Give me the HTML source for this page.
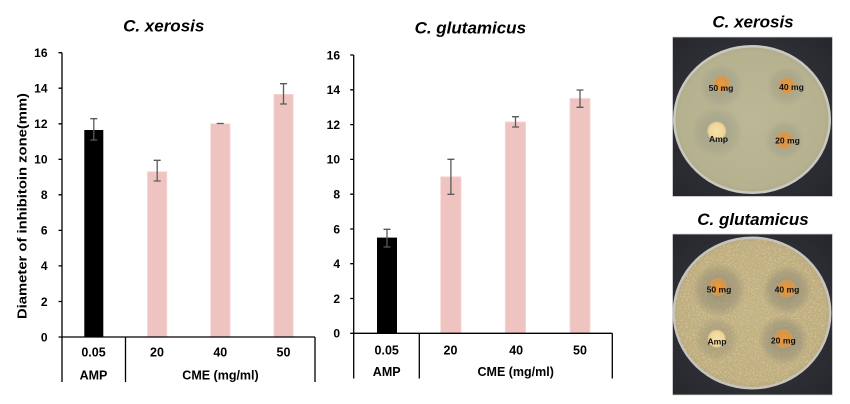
<!DOCTYPE html>
<html><head><meta charset="utf-8"><style>
html,body{margin:0;padding:0;background:#fff;}
svg{display:block;}
</style></head><body>
<svg width="850" height="404" viewBox="0 0 850 404" xmlns="http://www.w3.org/2000/svg" font-family="'Liberation Sans', Arial, sans-serif">
<defs>
  <clipPath id="cp1"><rect x="672.5" y="37" width="160" height="159.5"/></clipPath>
  <clipPath id="cp2"><rect x="672.5" y="234" width="160" height="161"/></clipPath>
  <clipPath id="dish2"><ellipse cx="752" cy="313" rx="77" ry="74"/></clipPath>
  <radialGradient id="bg" cx="50%" cy="50%" r="70%">
    <stop offset="0" stop-color="#3a3c42"/><stop offset="1" stop-color="#25272d"/>
  </radialGradient>
  <radialGradient id="agar1" cx="50%" cy="50%" r="55%">
    <stop offset="0" stop-color="#bcb896"/><stop offset="0.85" stop-color="#b6b28f"/><stop offset="1" stop-color="#a9a685"/>
  </radialGradient>
  <radialGradient id="agar2" cx="50%" cy="50%" r="55%">
    <stop offset="0" stop-color="#c2b284"/><stop offset="0.85" stop-color="#bfae80"/><stop offset="1" stop-color="#ada07a"/>
  </radialGradient>
  <radialGradient id="zone1"><stop offset="0" stop-color="#9d9b86" stop-opacity="0.8"/><stop offset="0.7" stop-color="#a3a18a" stop-opacity="0.5"/><stop offset="1" stop-color="#a3a18a" stop-opacity="0"/></radialGradient>
  <radialGradient id="zone2"><stop offset="0" stop-color="#8f8a74" stop-opacity="0.85"/><stop offset="0.7" stop-color="#999279" stop-opacity="0.55"/><stop offset="1" stop-color="#999279" stop-opacity="0"/></radialGradient>
  <radialGradient id="disc"><stop offset="0" stop-color="#e39a45"/><stop offset="0.75" stop-color="#d99445"/><stop offset="1" stop-color="#d8a060" stop-opacity="0.6"/></radialGradient>
  <radialGradient id="discA"><stop offset="0" stop-color="#f6e2a8"/><stop offset="0.8" stop-color="#f0d597"/><stop offset="1" stop-color="#e8cf98" stop-opacity="0.6"/></radialGradient>
  <filter id="spk" x="0" y="0" width="100%" height="100%">
    <feTurbulence type="fractalNoise" baseFrequency="0.6" numOctaves="2" seed="7"/>
    <feColorMatrix type="matrix" values="0 0 0 0 0.84  0 0 0 0 0.74  0 0 0 0 0.46  4 0 0 0 -2.0"/>
  </filter>
</defs>
<rect width="850" height="404" fill="#fff"/>

<!-- ================= CHART 1 ================= -->
<text x="163.7" y="31.5" font-size="17" font-weight="bold" font-style="italic" text-anchor="middle" fill="#000">C. xerosis</text>
<text transform="translate(26.3,206) rotate(-90)" font-size="13" font-weight="bold" text-anchor="middle" textLength="226" lengthAdjust="spacingAndGlyphs" fill="#000">Diameter of inhibitoin zone(mm)</text>

<g fill="#efc4c0" stroke="#f5d6d3" stroke-width="0.8">
  <rect x="147.5" y="171.7" width="19.3" height="165.3"/>
  <rect x="210.7" y="123.8" width="19.3" height="213.2"/>
  <rect x="273.9" y="94.4" width="19.3" height="242.6"/>
</g>
<rect x="84.3" y="130" width="19" height="207" fill="#000"/>

<g stroke="#5a5a5a" stroke-width="1.3" fill="none">
  <path d="M93.8 118.7V140M90.3 118.7H97.3M90.3 140H97.3"/>
  <path d="M157.2 160.3V181M153.7 160.3H160.7M153.7 181H160.7"/>
  <path d="M216.8 123.5H223.8"/>
  <path d="M283.5 83.7V104M280 83.7H287M280 104H287"/>
</g>

<g stroke="#000" stroke-width="1.3" fill="none">
  <path d="M62 52.7V382"/>
  <path d="M58.5 337H315"/>
  <path d="M125.5 337V382M315 337V382"/>
  <path d="M58.5 52.7H62M58.5 88.2H62M58.5 123.8H62M58.5 159.3H62M58.5 194.8H62M58.5 230.4H62M58.5 265.9H62M58.5 301.5H62"/>
</g>
<g font-size="12" font-weight="bold" text-anchor="end" fill="#000">
  <text x="47.5" y="341.3">0</text>
  <text x="47.5" y="305.8">2</text>
  <text x="47.5" y="270.2">4</text>
  <text x="47.5" y="234.7">6</text>
  <text x="47.5" y="199.1">8</text>
  <text x="47.5" y="163.6">10</text>
  <text x="47.5" y="128.1">12</text>
  <text x="47.5" y="92.5">14</text>
  <text x="47.5" y="57">16</text>
</g>
<g font-size="12.5" font-weight="bold" text-anchor="middle" fill="#000">
  <text x="93.5" y="356.5">0.05</text>
  <text x="157" y="356.5">20</text>
  <text x="220.3" y="356.5">40</text>
  <text x="283.5" y="356.5">50</text>
  <text x="93.5" y="379.5">AMP</text>
  <text x="220.5" y="379.5">CME (mg/ml)</text>
</g>

<!-- ================= CHART 2 ================= -->
<text x="470.3" y="33.3" font-size="17" font-weight="bold" font-style="italic" text-anchor="middle" fill="#000">C. glutamicus</text>

<g fill="#efc4c0" stroke="#f5d6d3" stroke-width="0.8">
  <rect x="440.7" y="176.8" width="20.3" height="156.5"/>
  <rect x="505.3" y="122" width="20.3" height="211.3"/>
  <rect x="570" y="98.5" width="20" height="234.8"/>
</g>
<rect x="377" y="237.6" width="20" height="95.7" fill="#000"/>

<g stroke="#5a5a5a" stroke-width="1.3" fill="none">
  <path d="M387 229.3V247M383.5 229.3H390.5M383.5 247H390.5"/>
  <path d="M450.9 159.3V194.3M447.4 159.3H454.4M447.4 194.3H454.4"/>
  <path d="M515.5 116.7V127M512 116.7H519M512 127H519"/>
  <path d="M580 90V107.3M576.5 90H583.5M576.5 107.3H583.5"/>
</g>

<g stroke="#000" stroke-width="1.3" fill="none">
  <path d="M353.7 55V378.5"/>
  <path d="M350.2 333.3H612.3"/>
  <path d="M419.3 333.3V378.5M612.3 333.3V378.5"/>
  <path d="M350.2 55H353.7M350.2 89.8H353.7M350.2 124.6H353.7M350.2 159.4H353.7M350.2 194.2H353.7M350.2 229H353.7M350.2 263.7H353.7M350.2 298.5H353.7"/>
</g>
<g font-size="12" font-weight="bold" text-anchor="end" fill="#000">
  <text x="340" y="337.6">0</text>
  <text x="340" y="302.8">2</text>
  <text x="340" y="268">4</text>
  <text x="340" y="233.3">6</text>
  <text x="340" y="198.5">8</text>
  <text x="340" y="163.7">10</text>
  <text x="340" y="128.9">12</text>
  <text x="340" y="94.1">14</text>
  <text x="340" y="59.3">16</text>
</g>
<g font-size="12.5" font-weight="bold" text-anchor="middle" fill="#000">
  <text x="386.7" y="354.5">0.05</text>
  <text x="450.5" y="354.5">20</text>
  <text x="516.2" y="354.5">40</text>
  <text x="580" y="354.5">50</text>
  <text x="386.7" y="376">AMP</text>
  <text x="515.7" y="376">CME (mg/ml)</text>
</g>

<!-- ================= PHOTOS ================= -->
<text x="753" y="27.3" font-size="17" font-weight="bold" font-style="italic" text-anchor="middle" fill="#000">C. xerosis</text>
<g clip-path="url(#cp1)">
  <rect x="672.5" y="37" width="160" height="159.5" fill="url(#bg)"/>
  <ellipse cx="752" cy="119.5" rx="79" ry="74.5" fill="#c9c9c2"/>
  <ellipse cx="752" cy="119.5" rx="76.5" ry="72" fill="url(#agar1)"/>
  <circle cx="721" cy="86" r="22" fill="url(#zone1)"/>
  <circle cx="786.5" cy="86" r="20" fill="url(#zone1)"/>
  <circle cx="716.7" cy="132" r="26" fill="url(#zone1)"/>
  <circle cx="784.3" cy="140" r="20" fill="url(#zone1)"/>
  <circle cx="721.7" cy="84" r="8.5" fill="url(#disc)"/>
  <circle cx="786.7" cy="85.7" r="8.5" fill="url(#disc)"/>
  <circle cx="716.7" cy="131" r="9.5" fill="url(#discA)"/>
  <circle cx="784.3" cy="140" r="9" fill="url(#disc)" opacity="0.9"/>
  <g font-size="8.6" font-weight="bold" text-anchor="middle" fill="#111">
    <text x="721" y="91">50 mg</text>
    <text x="791.5" y="90">40 mg</text>
    <text x="718.5" y="142">Amp</text>
    <text x="787.5" y="143.5">20 mg</text>
  </g>
</g>
<rect x="672.5" y="37" width="160" height="159.5" fill="none" stroke="#d8d8d8" stroke-width="0.8"/>

<text x="753" y="225" font-size="17" font-weight="bold" font-style="italic" text-anchor="middle" fill="#000">C. glutamicus</text>
<g clip-path="url(#cp2)">
  <rect x="672.5" y="234" width="160" height="161" fill="url(#bg)"/>
  <ellipse cx="752" cy="313" rx="79.5" ry="76.5" fill="#c6c4bc"/>
  <ellipse cx="752" cy="313" rx="77" ry="74" fill="url(#agar2)"/>
  <g clip-path="url(#dish2)">
    <rect x="672.5" y="234" width="160" height="161" filter="url(#spk)" opacity="0.45"/>
  </g>
  <circle cx="719" cy="290" r="27" fill="url(#zone2)"/>
  <circle cx="787" cy="290" r="25" fill="url(#zone2)"/>
  <circle cx="716.7" cy="339" r="22" fill="url(#zone2)" opacity="0.65"/>
  <circle cx="783.3" cy="340" r="25" fill="url(#zone2)"/>
  <circle cx="718.3" cy="287" r="9" fill="url(#disc)"/>
  <circle cx="786.7" cy="288.7" r="9" fill="url(#disc)"/>
  <circle cx="716.7" cy="338.7" r="9" fill="url(#discA)"/>
  <circle cx="783.3" cy="338.7" r="9.5" fill="url(#disc)"/>
  <g font-size="8.6" font-weight="bold" text-anchor="middle" fill="#111">
    <text x="719" y="292.3">50 mg</text>
    <text x="787" y="292.3">40 mg</text>
    <text x="717" y="344.3">Amp</text>
    <text x="783.3" y="343.3">20 mg</text>
  </g>
</g>
<rect x="672.5" y="234" width="160" height="161" fill="none" stroke="#d8d8d8" stroke-width="0.8"/>
</svg>
</body></html>
